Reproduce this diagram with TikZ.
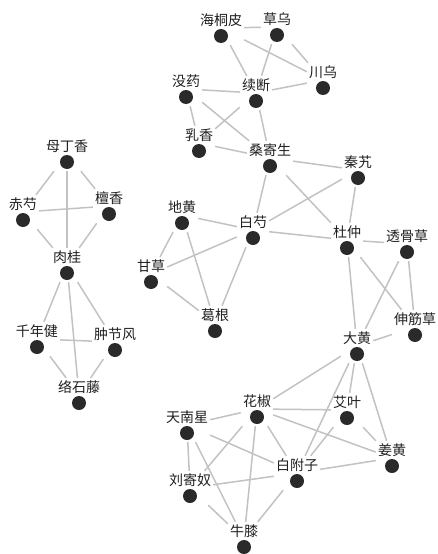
\documentclass[tikz,border=0pt]{standalone}
\usepackage{fontspec}
\setmainfont{Noto Sans CJK SC}
\usepackage{tikz}
\usepackage{color}
\definecolor{edgegray}{HTML}{C2C2C2}
\definecolor{dotgray}{HTML}{2A2A2A}
\definecolor{textgray}{HTML}{202020}

\begin{document}
\begin{tikzpicture}[x=1pt,y=-1pt]
						\tikzset{herb/.style={rectangle,inner xsep=2pt,inner ysep=2pt,text height=12pt,text depth=18pt,text=textgray,font=\fontsize{14}{16}\selectfont},
							edge/.style={draw=edgegray,line width=1.5pt},
							dot/.style={fill=dotgray}}
						\useasboundingbox (0,0) rectangle (438,554);
						\node [herb] (htp) at (221,28) {海桐皮};
						\node [herb] (cw) at (277,27) {草乌};
						\node [herb] (chw) at (323,80) {川乌};
						\node [herb] (my) at (186,89) {没药};
						\node [herb] (xd) at (256,93) {续断};
						\node [herb] (rx) at (199,143) {乳香};
						\node [herb] (sjs) at (270,158) {桑寄生};
						\node [herb] (qj) at (358,170) {秦艽};
						\node [herb] (dh) at (182,215) {地黄};
						\node [herb] (bs) at (253,230) {白芍};
						\node [herb] (dz) at (347,240) {杜仲};
						\node [herb] (tgc) at (407,244) {透骨草};
						\node [herb] (gc) at (151,274) {甘草};
						\node [herb] (gg) at (215,323) {葛根};
						\node [herb] (sjc) at (415,327) {伸筋草};
						\node [herb] (dhg) at (357,346) {大黄};
						\node [herb] (hj) at (257,409) {花椒};
						\node [herb] (ay) at (347,410) {艾叶};
						\node [herb] (tnx) at (187,425) {天南星};
						\node [herb] (jh) at (392,458) {姜黄};
						\node [herb] (bfz) at (297,473) {白附子};
						\node [herb] (ljn) at (190,488) {刘寄奴};
						\node [herb] (nx) at (244,539) {牛膝};
						\node [herb] (mdx) at (67,154) {母丁香};
						\node [herb] (cs) at (23,212) {赤芍};
						\node [herb] (tx) at (109,206) {檀香};
						\node [herb] (rg) at (67,265) {肉桂};
						\node [herb] (qnj) at (37,339) {千年健};
						\node [herb] (zjf) at (115,342) {肿节风};
						\node [herb] (lst) at (79,395) {络石藤};
						\draw [edge] (htp) -- (cw);
						\draw [edge] (htp) -- (xd);
						\draw [edge] (htp) -- (chw);
						\draw [edge] (cw) -- (chw);
						\draw [edge] (cw) -- (xd);
						\draw [edge] (chw) -- (xd);
						\draw [edge] (my) -- (xd);
						\draw [edge] (my) -- (rx);
						\draw [edge] (my) -- (sjs);
						\draw [edge] (xd) -- (rx);
						\draw [edge] (xd) -- (sjs);
						\draw [edge] (rx) -- (sjs);
						\draw [edge] (sjs) -- (qj);
						\draw [edge] (sjs) -- (bs);
						\draw [edge] (sjs) -- (dz);
						\draw [edge] (qj) -- (bs);
						\draw [edge] (qj) -- (dz);
						\draw [edge] (dh) -- (bs);
						\draw [edge] (dh) -- (gc);
						\draw [edge] (dh) -- (gg);
						\draw [edge] (bs) -- (gc);
						\draw [edge] (bs) -- (dz);
						\draw [edge] (bs) -- (gg);
						\draw [edge] (gc) -- (gg);
						\draw [edge] (dz) -- (tgc);
						\draw [edge] (dz) -- (dhg);
						\draw [edge] (dz) -- (sjc);
						\draw [edge] (tgc) -- (dhg);
						\draw [edge] (tgc) -- (sjc);
						\draw [edge] (sjc) -- (dhg);
						\draw [edge] (dhg) -- (hj);
						\draw [edge] (dhg) -- (ay);
						\draw [edge] (dhg) -- (jh);
						\draw [edge] (dhg) -- (bfz);
						\draw [edge] (hj) -- (tnx);
						\draw [edge] (hj) -- (ay);
						\draw [edge] (hj) -- (jh);
						\draw [edge] (hj) -- (bfz);
						\draw [edge] (hj) -- (ljn);
						\draw [edge] (hj) -- (nx);
						\draw [edge] (ay) -- (bfz);
						\draw [edge] (ay) -- (jh);
						\draw [edge] (tnx) -- (bfz);
						\draw [edge] (tnx) -- (ljn);
						\draw [edge] (tnx) -- (nx);
						\draw [edge] (bfz) -- (jh);
						\draw [edge] (bfz) -- (ljn);
						\draw [edge] (bfz) -- (nx);
						\draw [edge] (ljn) -- (nx);
						\draw [edge] (mdx) -- (cs);
						\draw [edge] (mdx) -- (tx);
						\draw [edge] (mdx) -- (rg);
						\draw [edge] (cs) -- (tx);
						\draw [edge] (cs) -- (rg);
						\draw [edge] (tx) -- (rg);
						\draw [edge] (rg) -- (qnj);
						\draw [edge] (rg) -- (zjf);
						\draw [edge] (rg) -- (lst);
						\draw [edge] (qnj) -- (zjf);
						\draw [edge] (qnj) -- (lst);
						\draw [edge] (zjf) -- (lst);
						\foreach \n in {htp,cw,chw,my,xd,rx,sjs,qj,dh,bs,dz,tgc,gc,gg,sjc,dhg,hj,ay,tnx,jh,bfz,ljn,nx,mdx,cs,tx,rg,qnj,zjf,lst}
							\fill [dot] (\n) ++(0,8) circle (7pt);
					\end{tikzpicture}
\end{document}
